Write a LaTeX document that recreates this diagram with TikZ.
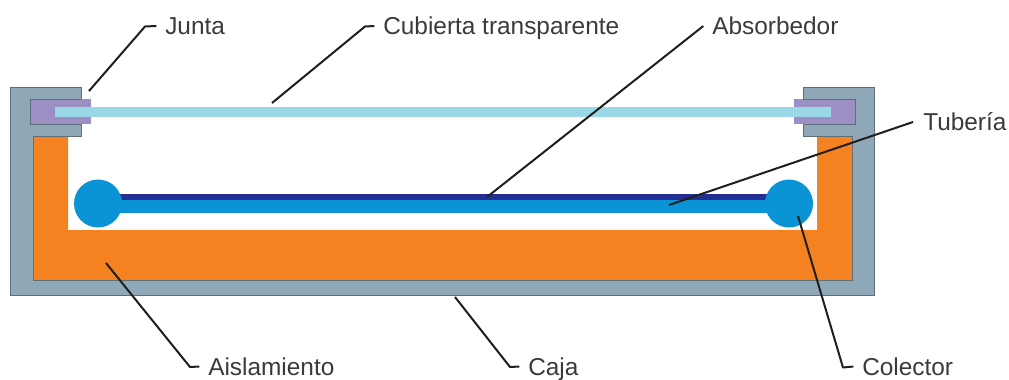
\documentclass[tikz,border=0pt]{standalone}
\usepackage{fontspec}
\setmainfont{Liberation Sans}
\definecolor{caja}{HTML}{8FA8B8}
\definecolor{cajaline}{HTML}{5F6F7A}
\definecolor{aisl}{HTML}{F58220}
\definecolor{junta}{HTML}{9B8FC4}
\definecolor{vidrio}{HTML}{9AD8E8}
\definecolor{tubo}{HTML}{0A94D6}
\definecolor{absor}{HTML}{252F91}
\definecolor{texto}{HTML}{3A3A3A}
\tikzset{
  lbl/.style={anchor=west,inner sep=0pt,text=texto,text height=13.2pt,text depth=0pt,font=\fontsize{18.3pt}{22pt}\selectfont},
  leader/.style={draw=black!88,line width=1.5pt,line join=round},
  framepart/.style={fill=caja,draw=cajaline,line width=0.6pt},
  jpart/.style={fill=junta,draw=none}
}
\begin{document}
\begin{tikzpicture}[x=0.75pt,y=-0.75pt]
\useasboundingbox (0,0) rectangle (1009,379);
% box
\path[framepart] (10,87) -- (81,87) -- (81,136) -- (33,136) -- (33,280) -- (852,280) -- (852,136) -- (803,136) -- (803,87) -- (874,87) -- (874,295) -- (10,295) -- cycle;
% insulation
\path[fill=aisl] (33,136) -- (68,136) -- (68,230) -- (817,230) -- (817,136) -- (852,136) -- (852,280) -- (33,280) -- cycle;
\draw[cajaline,line width=0.6pt] (81,136) -- (33,136) -- (33,280) -- (852,280) -- (852,136) -- (803,136);
% gaskets
\path[jpart] (30,99) rectangle (91,124);
\path[jpart] (794,99) rectangle (855,124);
\draw[cajaline,line width=0.6pt] (81,99) -- (30,99) -- (30,124) -- (81,124);
\draw[cajaline,line width=0.6pt] (803,99) -- (855,99) -- (855,124) -- (803,124);
% glass
\path[fill=vidrio] (55,107) rectangle (831,117);
% absorber and pipe
\path[fill=absor] (98,194) rectangle (789,200);
\path[fill=tubo] (98,200) rectangle (789,213);
\node[circle,fill=tubo,inner sep=0pt,minimum size=36pt] (colL) at (98,203.5) {};
\node[circle,fill=tubo,inner sep=0pt,minimum size=36pt] (colR) at (789,203.5) {};
% labels
\node[lbl] (junta) at (165,26) {Junta};
\node[lbl] (cubierta) at (383,26) {Cubierta transparente};
\node[lbl] (absorbedor) at (712,26) {Absorbedor};
\node[lbl] (tuberia) at (923,122) {Tubería};
\node[lbl] (aislamiento) at (208,366.5) {Aislamiento};
\node[lbl] (cajal) at (528,366.5) {Caja};
\node[lbl] (colector) at (862,366.5) {Colector};
% leader anchors
\coordinate (a1) at (89,91);
\coordinate (a2) at (272,103);
\coordinate (a3) at (487,197);
\coordinate (a4) at (669,205);
\coordinate (a5) at (106,263);
\coordinate (a6) at (455,297);
\coordinate (a7) at (798,216);
\path[leader] (a1) -- (145,26.5) -- ([xshift=-6.5pt]junta.west);
\path[leader] (a2) -- (365,26.5) -- ([xshift=-6.5pt]cubierta.west);
\path[leader] (a3) -- ([xshift=-6.5pt]absorbedor.west);
\path[leader] (a4) -- ([xshift=-7.5pt]tuberia.west);
\path[leader] (a5) -- (190,367) -- ([xshift=-6.5pt]aislamiento.west);
\path[leader] (a6) -- (510,367) -- ([xshift=-6.5pt]cajal.west);
\path[leader] (a7) -- (843,367.5) -- ([xshift=-6.5pt]colector.west);
\end{tikzpicture}
\end{document}
